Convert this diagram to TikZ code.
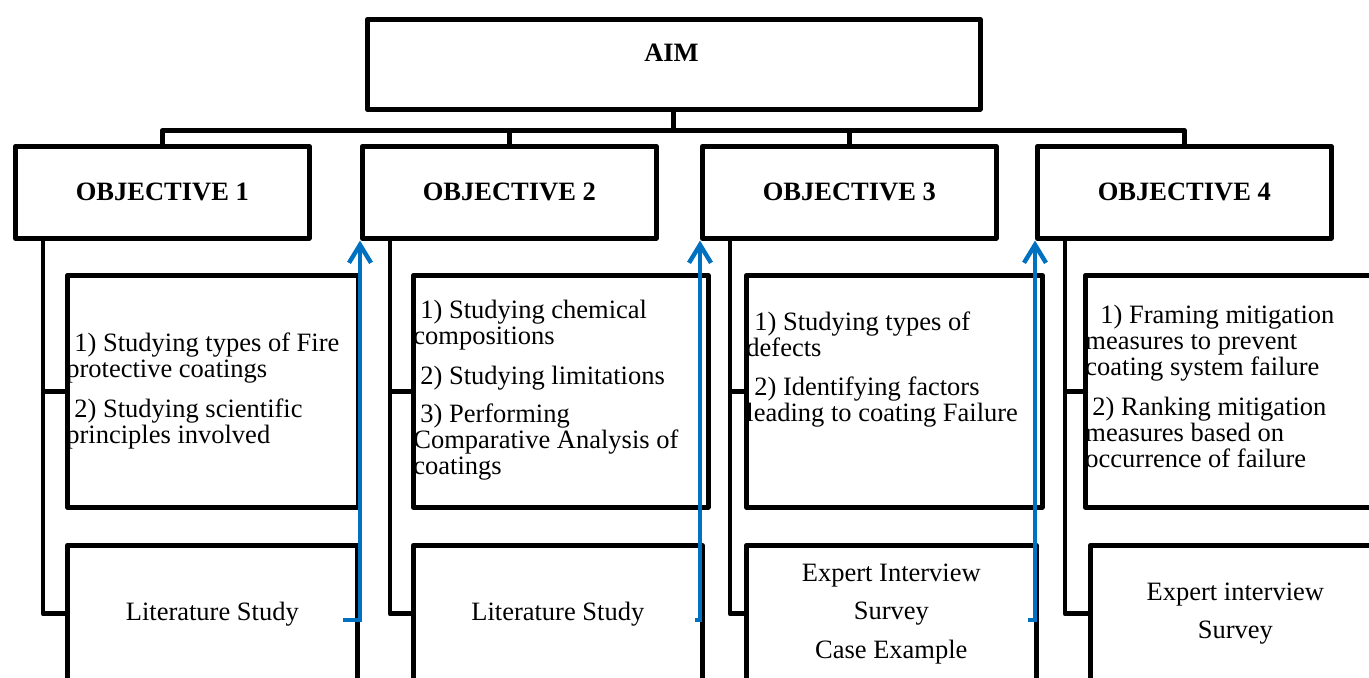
\documentclass[tikz,border=0pt]{standalone}
\usepackage{fontspec}
\setmainfont{Liberation Serif}
\usetikzlibrary{arrows.meta,calc}
\definecolor{arrowblue}{RGB}{0,112,192}
\begin{document}
\begin{tikzpicture}[x=0.5pt,y=-0.5pt,
  box/.style={draw,line width=2.3pt,line join=round,inner sep=0pt,anchor=north west,fill=white,align=center,font=\fontsize{13.25}{19.25}\selectfont},
  objbox/.style={box,minimum width=147pt,minimum height=46pt,font=\fontsize{13.25}{15}\selectfont\bfseries},
  upbox/.style={box,minimum height=116pt},
  lowbox/.style={box,minimum height=68.5pt},
  listtxt/.style={anchor=base west,inner sep=0pt,font=\fontsize{13.25}{13}\selectfont},
  conn/.style={line width=2.4pt,line join=round},
  flow/.style={draw=arrowblue,line width=2.2pt,line join=miter,-{Straight Barb[length=9pt,width=11pt,line width=2.2pt]}},
]
\useasboundingbox (0,0) rectangle (1369,677);
\clip (0,0) rectangle (1369,677);

% aim
\node[box,minimum width=306.5pt,minimum height=45pt] (aim) at (365,17) {};
\node[anchor=base,inner sep=0pt,font=\fontsize{13.25}{15}\selectfont\bfseries] (aimtxt) at (671.5,61) {AIM};

% objectives
\node[objbox] (obj1) at (13,144) {OBJECTIVE 1};
\node[objbox] (obj2) at (360,144) {OBJECTIVE 2};
\node[objbox] (obj3) at (700,144) {OBJECTIVE 3};
\node[objbox] (obj4) at (1035,144) {OBJECTIVE 4};

% upper boxes
\node[upbox,minimum width=145.5pt] (box1a) at (65,273) {};
\node[upbox,minimum width=147.5pt] (box2a) at (411,273) {};
\node[upbox,minimum width=148pt] (box3a) at (744,273) {};
\node[upbox,minimum width=147.5pt] (box4a) at (1083,273) {};

% lower boxes
\node[lowbox,minimum width=145pt] (box1b) at (65,543) {Literature Study};
\node[lowbox,minimum width=144.5pt] (box2b) at (411,543) {Literature Study};
\node[lowbox,minimum width=145pt] (box3b) at (744,543) {Expert Interview\\Survey\\Case Example};
\node[lowbox,minimum width=145pt] (box4b) at (1088,543) {Expert interview\\Survey};

% list texts
\node[listtxt] (txt1) at (66,351) {\parbox[t]{160pt}{\raggedright
\hspace*{4pt}1) Studying types of Fire\\
protective coatings\\[7pt]
\hspace*{4pt}2) Studying scientific\\
principles involved}};
\node[listtxt] (txt2) at (413,318) {\parbox[t]{160pt}{\raggedright
\hspace*{3.5pt}1) Studying chemical\\
compositions\\[7pt]
\hspace*{3.5pt}2) Studying limitations\\[6pt]
\hspace*{3.5pt}3) Performing\\
Comparative Analysis of\\
coatings}};
\node[listtxt] (txt3) at (746,330) {\parbox[t]{160pt}{\raggedright
\hspace*{4pt}1) Studying types of\\
defects\\[6.5pt]
\hspace*{4pt}2) Identifying factors\\
leading to coating Failure}};
\node[listtxt] (txt4) at (1085,323) {\parbox[t]{160pt}{\raggedright
\hspace*{7.5pt}1) Framing mitigation\\
measures to prevent\\
coating system failure\\[7pt]
\hspace*{3.5pt}2) Ranking mitigation\\
measures based on\\
occurrence of failure}};

% tree connectors
\foreach \o in {obj1,obj2,obj3,obj4}
  \draw[conn] (aim.south) -- ++(0,19) -| (\o.north);

\foreach \o/\a/\b in {obj1/box1a/box1b,obj2/box2a/box2b,obj3/box3a/box3b,obj4/box4a/box4b}{
  \coordinate (t-\o) at ($(\o.south west)+(30,0)$);
  \draw[conn] (t-\o) |- (\a.west);
  \draw[conn] (t-\o) |- (\b.west);
}

% blue flow arrows
\coordinate (s1) at ($(box1b.east)+(-17,6)$);
\coordinate (s2) at ($(box2b.east)+(-10,6)$);
\coordinate (s3) at ($(box3b.east)+(-11,6)$);
\draw[flow] (s1) -| (obj2.south west);
\draw[flow] (s2) -| (obj3.south west);
\draw[flow] (s3) -| (obj4.south west);
\end{tikzpicture}
\end{document}
